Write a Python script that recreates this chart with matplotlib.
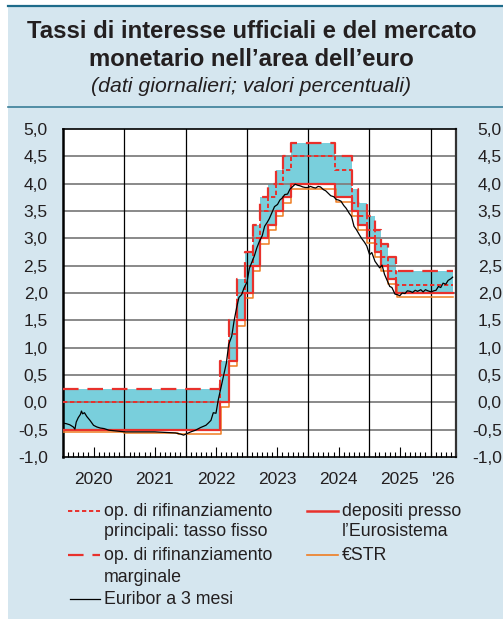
import numpy as np
import pandas as pd
import matplotlib
matplotlib.use('Agg')
import matplotlib.pyplot as plt
import matplotlib.dates as mdates
from matplotlib.lines import Line2D
from matplotlib.patches import Rectangle
import matplotlib.transforms as mtrans

plt.rcParams['font.family'] = ['Liberation Sans', 'DejaVu Sans']

# official ECB rates: change dates and levels
rate_dates = ['2020-01-01', '2022-07-27', '2022-09-14', '2022-11-02', '2022-12-21',
              '2023-02-08', '2023-03-22', '2023-05-10', '2023-06-21', '2023-08-02',
              '2023-09-20', '2024-06-12', '2024-09-18', '2024-10-23', '2024-12-18',
              '2025-02-05', '2025-03-12', '2025-04-23', '2025-06-11', '2026-05-12']
mro = [0.00, 0.50, 1.25, 2.00, 2.50, 3.00, 3.50, 3.75, 4.00, 4.25,
       4.50, 4.25, 3.65, 3.40, 3.15, 2.90, 2.65, 2.40, 2.15, 2.15]
mlf = [0.25, 0.75, 1.50, 2.25, 2.75, 3.25, 3.75, 4.00, 4.25, 4.50,
       4.75, 4.50, 3.90, 3.65, 3.40, 3.15, 2.90, 2.65, 2.40, 2.40]
dfr = [-0.50, 0.00, 0.75, 1.50, 2.00, 2.50, 3.00, 3.25, 3.50, 3.75,
       4.00, 3.75, 3.50, 3.25, 3.00, 2.75, 2.50, 2.25, 2.00, 2.00]

# euro short-term rate (step levels)
estr_dates = ['2020-01-01', '2020-07-01', '2021-01-01', '2021-07-01', '2021-11-15',
              '2022-07-28', '2022-09-15', '2022-11-03', '2022-12-22', '2023-02-09',
              '2023-03-23', '2023-05-11', '2023-06-22', '2023-08-03', '2023-09-21',
              '2024-06-13', '2024-09-19', '2024-10-24', '2024-12-19', '2025-02-06',
              '2025-03-13', '2025-04-24', '2025-06-12', '2026-05-12']
estr = [-0.54, -0.55, -0.56, -0.57, -0.58, -0.08, 0.66, 1.40, 1.90, 2.40,
        2.90, 3.15, 3.40, 3.65, 3.90, 3.66, 3.41, 3.16, 2.91, 2.66,
        2.41, 2.17, 1.92, 1.93]

# 3-month Euribor
eur_dates = ['2020-01-01', '2020-01-20', '2020-02-10', '2020-03-02', '2020-03-12', '2020-03-20',
             '2020-04-01', '2020-04-14', '2020-04-20', '2020-04-27', '2020-05-08', '2020-05-22',
             '2020-06-10', '2020-07-01', '2020-07-20', '2020-08-10', '2020-09-01', '2020-10-01',
             '2020-11-02', '2020-12-01', '2021-01-04', '2021-03-01', '2021-05-03', '2021-07-01',
             '2021-09-01', '2021-11-01', '2021-12-01', '2021-12-20', '2022-01-10', '2022-02-01',
             '2022-03-01', '2022-04-01', '2022-05-02', '2022-05-16', '2022-06-01', '2022-06-15',
             '2022-07-01', '2022-07-15', '2022-08-01', '2022-08-16', '2022-09-01', '2022-09-15',
             '2022-10-03', '2022-10-17', '2022-11-01', '2022-11-15', '2022-12-01', '2022-12-15',
             '2023-01-02', '2023-01-16', '2023-02-01', '2023-02-15', '2023-03-01', '2023-03-15',
             '2023-04-03', '2023-04-17', '2023-05-02', '2023-05-15', '2023-06-01', '2023-06-15',
             '2023-07-03', '2023-07-17', '2023-08-01', '2023-08-15', '2023-09-01', '2023-09-15',
             '2023-10-02', '2023-10-16', '2023-11-01', '2023-11-15', '2023-12-01', '2023-12-15',
             '2024-01-02', '2024-01-15', '2024-02-01', '2024-02-15', '2024-03-01', '2024-03-15',
             '2024-04-02', '2024-04-15', '2024-05-02', '2024-05-15', '2024-06-03', '2024-06-17',
             '2024-07-01', '2024-07-15', '2024-08-01', '2024-08-15', '2024-09-02', '2024-09-16',
             '2024-10-01', '2024-10-15', '2024-11-01', '2024-11-15', '2024-12-02', '2024-12-16',
             '2025-01-02', '2025-01-15', '2025-02-03', '2025-02-17', '2025-03-03', '2025-03-17',
             '2025-04-01', '2025-04-15', '2025-05-02', '2025-05-15', '2025-06-02', '2025-06-16',
             '2025-07-01', '2025-07-15', '2025-08-01', '2025-08-15', '2025-09-01', '2025-09-15',
             '2025-10-01', '2025-10-15', '2025-11-03', '2025-11-17', '2025-12-01', '2025-12-15',
             '2026-01-05', '2026-01-19', '2026-02-02', '2026-02-16', '2026-03-02', '2026-03-16',
             '2026-04-01', '2026-04-15', '2026-05-01', '2026-05-12']
euribor = [-0.38, -0.39, -0.41, -0.45, -0.49, -0.36,
           -0.28, -0.22, -0.16, -0.21, -0.19, -0.26,
           -0.33, -0.42, -0.45, -0.47, -0.48, -0.51,
           -0.52, -0.53, -0.54, -0.54, -0.54, -0.54,
           -0.55, -0.56, -0.58, -0.60, -0.57, -0.54,
           -0.51, -0.46, -0.42, -0.38, -0.33, -0.19,
           -0.20, 0.05, 0.29, 0.50, 0.72, 1.06,
           1.21, 1.49, 1.73, 1.92, 1.97, 2.09,
           2.20, 2.45, 2.57, 2.68, 2.82, 2.93,
           3.05, 3.22, 3.29, 3.36, 3.48, 3.58,
           3.62, 3.70, 3.74, 3.80, 3.81, 3.90,
           3.95, 3.99, 3.97, 3.96, 3.94, 3.93,
           3.93, 3.95, 3.93, 3.92, 3.95, 3.94,
           3.89, 3.87, 3.82, 3.78, 3.76, 3.71,
           3.70, 3.68, 3.60, 3.55, 3.46, 3.40,
           3.22, 3.16, 3.07, 3.00, 2.93, 2.86,
           2.70, 2.74, 2.58, 2.52, 2.46, 2.51,
           2.34, 2.24, 2.12, 2.10, 1.98, 1.97,
           1.95, 2.00, 1.99, 2.04, 2.03, 2.01,
           2.05, 2.03, 2.06, 2.02, 2.06, 2.04,
           2.02, 2.04, 2.05, 2.12, 2.10, 2.18,
           2.16, 2.23, 2.26, 2.29]

y_ticks = [-1.0, -0.5, 0.0, 0.5, 1.0, 1.5, 2.0, 2.5, 3.0, 3.5, 4.0, 4.5, 5.0]
y_labels = [('%.1f' % v).replace('.', ',') for v in y_ticks]
years = [2020, 2021, 2022, 2023, 2024, 2025]

red = '#e8312c'
orange = '#ef7d22'
cyan = '#79cfdc'
bg = '#d5e6ef'
navy = '#1e6b8a'
txt = '#231f20'

rd = pd.to_datetime(rate_dates)
sd = pd.to_datetime(estr_dates)
ed = pd.to_datetime(eur_dates)

fig = plt.figure(figsize=(5.03, 6.19), dpi=100)
fig.patch.set_facecolor('white')
fig.patches.append(Rectangle((8/503., 0), 1, 1 - 6/619., transform=fig.transFigure,
                             facecolor=bg, edgecolor='none', zorder=-5))
fig.lines.append(Line2D([8/503., 1], [1 - 6/619., 1 - 6/619.], transform=fig.transFigure,
                        color=navy, lw=1.6))
fig.lines.append(Line2D([8/503., 1], [1 - 107/619., 1 - 107/619.], transform=fig.transFigure,
                        color='#3a7e98', lw=1.2))

fig.text(0.5, 1 - 31/619., 'Tassi di interesse ufficiali e del mercato', ha='center', va='center',
         fontsize=17.2, fontweight='bold', color=txt)
fig.text(0.5, 1 - 59/619., 'monetario nell\u2019area dell\u2019euro', ha='center', va='center',
         fontsize=17.2, fontweight='bold', color=txt)
fig.text(0.5, 1 - 87/619., '(dati giornalieri; valori percentuali)', ha='center', va='center',
         fontsize=15.3, style='italic', color=txt)

ax = fig.add_axes([63/503., 1 - 457/619., (456 - 63)/503., (457 - 129)/619.])
ax.set_facecolor('white')

ax.fill_between(rd, dfr, mlf, step='post', color=cyan, lw=0, zorder=1)
ax.step(sd, estr, where='post', color=orange, lw=1.1, zorder=3)
ax.step(rd, dfr, where='post', color=red, lw=1.6, zorder=4)
ax.step(rd, mro, where='post', color=red, lw=1.4, dashes=(2.2, 1.4), zorder=4)
ax.step(rd, mlf, where='post', color=red, lw=1.6, dashes=(7, 4), zorder=4)
ax.plot(ed, euribor, color='black', lw=0.9, zorder=5)

ax.set_ylim(-1.0, 5.0)
ax.set_xlim(pd.Timestamp('2020-01-01'), pd.Timestamp('2026-06-01'))
ax.set_yticks(y_ticks)
ax.set_yticklabels(y_labels)
ax.tick_params(axis='y', length=0, pad=11, labelsize=12.5, labelcolor=txt)

for v in y_ticks[1:-1]:
    ax.axhline(v, color='#808080', lw=1.3, zorder=2)
for yr in years[1:] + [2026]:
    ax.axvline(pd.Timestamp('%d-01-01' % yr), color='black', lw=0.9, zorder=2)

ax.xaxis.set_major_locator(mdates.MonthLocator(bymonth=7))
ax.xaxis.set_minor_locator(mdates.MonthLocator())
ax.xaxis.set_major_formatter(mdates.DateFormatter('%Y'))
ax.tick_params(axis='x', which='major', direction='in', length=7, width=0.8, pad=11,
               labelsize=12.5, labelcolor=txt)
ax.tick_params(axis='x', which='minor', direction='in', length=3.6, width=0.8)
lab_off = mtrans.offset_copy(ax.transData, fig=fig, x=0, y=-11, units='points')
ax.text(pd.Timestamp('2026-03-16'), -1.0, "'26", transform=lab_off, ha='center', va='top',
        fontsize=12.5, color=txt)

ax.spines['left'].set_linewidth(1.8)
ax.spines['right'].set_linewidth(1.6)
ax.spines['right'].set_color('#333333')
ax.spines['top'].set_linewidth(1.2)
ax.spines['bottom'].set_linewidth(1.2)

ax2 = ax.twinx()
ax2.set_ylim(-1.0, 5.0)
ax2.set_yticks(y_ticks)
ax2.set_yticklabels(y_labels, ha='right')
ax2.tick_params(axis='y', length=0, pad=33, labelsize=12.5, labelcolor=txt)
for s in ax2.spines.values():
    s.set_visible(False)

# legend, drawn by hand
def fy(p):
    return 1 - p/619.

def fx(p):
    return p/503.

fig.lines.append(Line2D([fx(68), fx(100)], [fy(511), fy(511)], transform=fig.transFigure,
                        color=red, lw=1.4, dashes=(2.2, 1.4)))
fig.lines.append(Line2D([fx(68), fx(100)], [fy(555), fy(555)], transform=fig.transFigure,
                        color=red, lw=1.6, dashes=(7, 4)))
fig.lines.append(Line2D([fx(70), fx(100)], [fy(599), fy(599)], transform=fig.transFigure,
                        color='black', lw=0.9))
fig.lines.append(Line2D([fx(307), fx(338)], [fy(511), fy(511)], transform=fig.transFigure,
                        color=red, lw=1.8))
fig.lines.append(Line2D([fx(307), fx(338)], [fy(555), fy(555)], transform=fig.transFigure,
                        color=orange, lw=1.2))

leg_fs = 12.8
fig.text(fx(104), fy(511), 'op. di rifinanziamento', va='center', fontsize=leg_fs, color=txt)
fig.text(fx(104), fy(532), 'principali: tasso fisso', va='center', fontsize=leg_fs, color=txt)
fig.text(fx(104), fy(555), 'op. di rifinanziamento', va='center', fontsize=leg_fs, color=txt)
fig.text(fx(104), fy(577), 'marginale', va='center', fontsize=leg_fs, color=txt)
fig.text(fx(104), fy(599), 'Euribor a 3 mesi', va='center', fontsize=leg_fs, color=txt)
fig.text(fx(342), fy(511), 'depositi presso', va='center', fontsize=leg_fs, color=txt)
fig.text(fx(342), fy(532), 'l\u2019Eurosistema', va='center', fontsize=leg_fs, color=txt)
fig.text(fx(342), fy(555), '\u20acSTR', va='center', fontsize=leg_fs, color=txt)

fig.savefig('out.png', dpi=100, facecolor=fig.get_facecolor())
